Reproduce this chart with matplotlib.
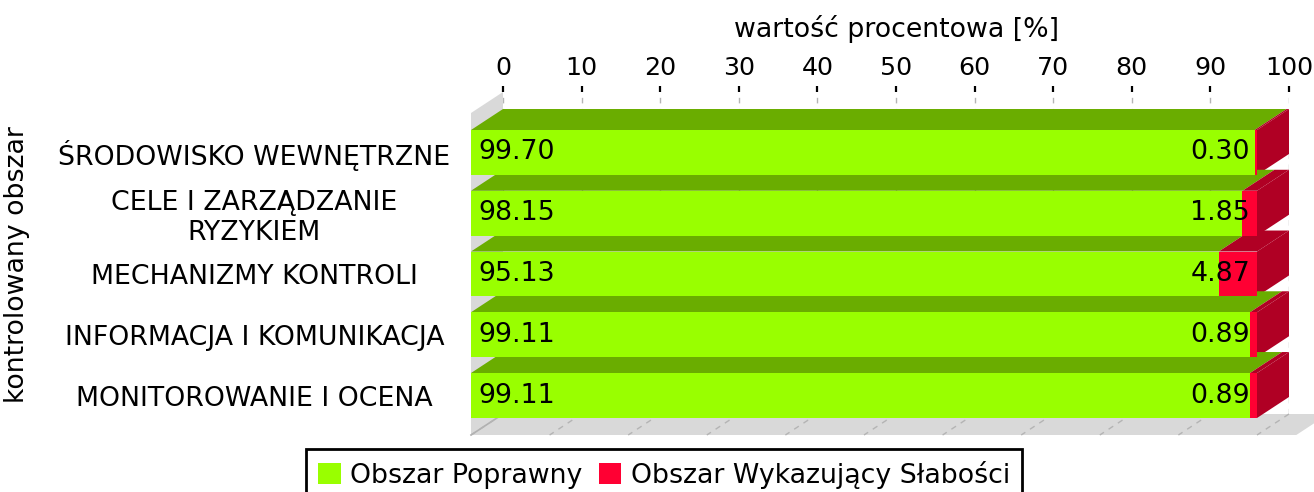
import matplotlib.pyplot as plt
from matplotlib.patches import Polygon

# data
categories = ['ŚRODOWISKO WEWNĘTRZNE', 'CELE I ZARZĄDZANIE\nRYZYKIEM', 'MECHANIZMY KONTROLI',
              'INFORMACJA I KOMUNIKACJA', 'MONITOROWANIE I OCENA']
ok_values = [99.70, 98.15, 95.13, 99.11, 99.11]
weak_values = [0.30, 1.85, 4.87, 0.89, 0.89]
series_names = ['Obszar Poprawny', 'Obszar Wykazujący Słabości']
ticks = [0, 10, 20, 30, 40, 50, 60, 70, 80, 90, 100]

green, green_top = '#99ff00', '#6aad00'
red, red_top = '#ff0033', '#b00024'
wall = '#d9d9d9'
grid_col = '#b4b4b4'

W, H = 1314, 492
fig = plt.figure(figsize=(W / 100, H / 100), dpi=100)

# depth of the 3D effect in data units
dx = 32 / 7.86
dy = 21 / 60.75
ylo, yhi = -0.65, 4.65
bar_h = 0.74

# back plane axes (ticks, labels and grid on top)
back = fig.add_axes([503 / W, (H - 414) / H, 786 / W, 322 / H])
back.set_xlim(0, 100)
back.set_ylim(ylo, yhi)
back.patch.set_visible(False)
for s in back.spines.values():
    s.set_visible(False)
back.xaxis.tick_top()
back.xaxis.set_label_position('top')
back.set_xticks(ticks)
back.set_yticks([])
back.tick_params(axis='x', direction='out', length=4.5, width=1.6, pad=4, labelsize=18.2)
back.grid(axis='x', linestyle=(0, (4, 4)), color=grid_col, linewidth=1)
back.set_xlabel('wartość procentowa [%]', fontsize=19.3, labelpad=13.5)

# front axes with the bars
ax = fig.add_axes([471 / W, (H - 435) / H, 786 / W, 322 / H], zorder=2)
ax.set_xlim(0, 100)
ax.set_ylim(ylo, yhi)
ax.patch.set_visible(False)
for s in ax.spines.values():
    s.set_visible(False)
ax.set_xticks([])

n = len(categories)
pos = [n - 1 - i for i in range(n)]

# left wall and floor
ax.add_patch(Polygon([(0, ylo), (dx, ylo + dy), (dx, yhi + dy), (0, yhi)],
                     closed=True, facecolor=wall, edgecolor='none', zorder=0.5, clip_on=False))
ax.add_patch(Polygon([(0, ylo), (105, ylo), (105 + dx, ylo + dy), (dx, ylo + dy)],
                     closed=True, facecolor=wall, edgecolor='none', zorder=0.5, clip_on=False))
ax.plot([0, dx], [ylo, ylo + dy], color='#b0b0b0', lw=1.2, zorder=0.6, clip_on=False)
for t in ticks:
    ax.plot([t + dx, t], [ylo + dy, ylo], color=grid_col, lw=1, linestyle=(0, (4, 4)),
            zorder=0.6, clip_on=False)

# top and side faces
for p, g, r in zip(pos, ok_values, weak_values):
    top = p + bar_h / 2
    bot = p - bar_h / 2
    ax.add_patch(Polygon([(0, top), (g, top), (g + dx, top + dy), (dx, top + dy)],
                         closed=True, facecolor=green_top, edgecolor='none', zorder=1, clip_on=False))
    ax.add_patch(Polygon([(g, top), (g + r, top), (g + r + dx, top + dy), (g + dx, top + dy)],
                         closed=True, facecolor=red_top, edgecolor='none', zorder=1, clip_on=False))
    ax.add_patch(Polygon([(g + r, bot), (g + r, top), (g + r + dx, top + dy), (g + r + dx, bot + dy)],
                         closed=True, facecolor=red_top, edgecolor='none', zorder=1, clip_on=False))

# front faces
ax.barh(pos, ok_values, height=bar_h, color=green, zorder=2, label=series_names[0])
ax.barh(pos, weak_values, left=ok_values, height=bar_h, color=red, zorder=2, label=series_names[1])

for p, g, r in zip(pos, ok_values, weak_values):
    ax.annotate(f'{g:.2f}', (0, p), xytext=(5, 0), textcoords='offset points',
                ha='left', va='center', fontsize=19.3, zorder=3)
    ax.annotate(f'{r:.2f}', (g + r, p), xytext=(-5, 0), textcoords='offset points',
                ha='right', va='center', fontsize=19.3, zorder=3)

ax.set_yticks(pos)
ax.set_yticklabels(categories, ha='center', multialignment='center', fontsize=19.3)
ax.tick_params(axis='y', length=0, pad=156)
ax.set_ylabel('kontrolowany obszar', fontsize=19.3)
ax.yaxis.set_label_coords(-0.561, 0.53)

leg = fig.legend(loc='upper center', bbox_to_anchor=(664 / W, 1 - 449 / H), ncol=2,
                 fontsize=19.3, frameon=True, fancybox=False, edgecolor='black', framealpha=1,
                 handlelength=0.85, handleheight=0.85, handletextpad=0.35, columnspacing=0.6,
                 borderpad=0.45, borderaxespad=0)
leg.get_frame().set_linewidth(2)

fig.savefig('out.png', dpi=100)
